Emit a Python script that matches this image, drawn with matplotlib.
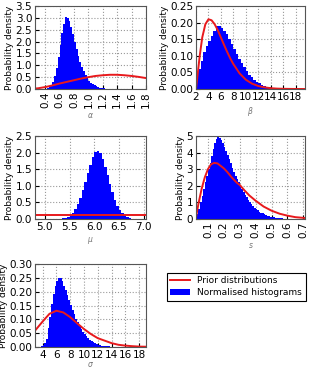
import numpy as np
import matplotlib
matplotlib.use('Agg')
import matplotlib.pyplot as plt

# alpha
alpha_start, alpha_width = 0.40, 0.025
alpha_hist = [0.01, 0.03, 0.07, 0.15, 0.30, 0.55, 0.90, 1.35, 1.85, 2.35, 2.75, 3.05,
              3.00, 2.85, 2.60, 2.30, 2.00, 1.70, 1.40, 1.15, 0.92, 0.74, 0.58, 0.45,
              0.35, 0.27, 0.20, 0.15, 0.11, 0.08, 0.06, 0.04, 0.03, 0.02, 0.015, 0.01, 0.005]
alpha_prior_x = [0.26, 0.3, 0.4, 0.5, 0.6, 0.7, 0.8, 0.9, 1.0, 1.1, 1.2, 1.3, 1.4, 1.5, 1.6, 1.7, 1.8]
alpha_prior_y = [0.02, 0.03, 0.08, 0.15, 0.23, 0.30, 0.37, 0.44, 0.50, 0.55, 0.58, 0.60, 0.60,
                 0.58, 0.55, 0.51, 0.46]

# beta
beta_start, beta_width = 2.0, 0.4
beta_hist = [0.03, 0.06, 0.085, 0.11, 0.13, 0.145, 0.16, 0.175, 0.19, 0.19, 0.185, 0.175,
             0.165, 0.15, 0.135, 0.12, 0.105, 0.09, 0.077, 0.065, 0.053, 0.043, 0.035,
             0.028, 0.022, 0.017, 0.013, 0.01, 0.007, 0.005, 0.004, 0.003, 0.002, 0.001]
beta_prior_x = [2.0, 2.3, 2.6, 3.0, 3.5, 4.0, 4.5, 5.0, 5.5, 6.0, 6.5, 7.0, 7.5, 8.0, 9.0,
                10.0, 11.0, 12.0, 13.0, 14.0, 15.0, 16.0, 17.0, 18.0, 19.5]
beta_prior_y = [0.0, 0.05, 0.10, 0.155, 0.195, 0.21, 0.207, 0.195, 0.177, 0.155, 0.133, 0.112,
                0.092, 0.075, 0.047, 0.028, 0.016, 0.009, 0.005, 0.0025, 0.0012, 0.0006,
                0.0003, 0.0001, 0.0]

# mu
mu_start, mu_width = 5.30, 0.05
mu_hist = [0.01, 0.02, 0.04, 0.07, 0.12, 0.19, 0.30, 0.45, 0.64, 0.87, 1.12, 1.39, 1.64,
           1.86, 2.02, 2.05, 1.98, 1.82, 1.58, 1.32, 1.05, 0.80, 0.58, 0.40, 0.27, 0.17,
           0.10, 0.06, 0.03, 0.015]
mu_prior_x = [4.8, 7.05]
mu_prior_y = [0.11, 0.11]

# s
s_start, s_width = 0.03, 0.01
s_hist = [0.3, 0.6, 1.0, 1.4, 1.8, 2.2, 2.6, 3.0, 3.4, 3.8, 4.2, 4.55, 4.8, 4.95, 4.9, 4.75,
          4.55, 4.35, 4.1, 3.85, 3.6, 3.35, 3.1, 2.85, 2.6, 2.4, 2.2, 2.0, 1.8, 1.62, 1.45,
          1.3, 1.15, 1.02, 0.9, 0.79, 0.69, 0.6, 0.52, 0.45, 0.39, 0.34, 0.29, 0.25, 0.21,
          0.18, 0.15, 0.13, 0.11, 0.09, 0.075, 0.06, 0.05, 0.04, 0.03, 0.025, 0.02, 0.015, 0.01]
s_prior_x = [0.025, 0.04, 0.06, 0.08, 0.10, 0.12, 0.14, 0.16, 0.18, 0.20, 0.22, 0.25, 0.28,
             0.30, 0.33, 0.36, 0.40, 0.45, 0.50, 0.55, 0.60, 0.65, 0.71]
s_prior_y = [0.1, 0.9, 1.8, 2.5, 3.0, 3.3, 3.38, 3.35, 3.2, 3.05, 2.85, 2.5, 2.2, 2.05, 1.72,
             1.42, 1.1, 0.75, 0.5, 0.32, 0.2, 0.11, 0.06]

# sigma
sigma_start, sigma_width = 3.75, 0.25
sigma_hist = [0.002, 0.006, 0.015, 0.03, 0.07, 0.11, 0.155, 0.19, 0.22, 0.24, 0.25, 0.248,
              0.238, 0.222, 0.205, 0.188, 0.17, 0.152, 0.135, 0.118, 0.103, 0.089, 0.076,
              0.065, 0.055, 0.046, 0.038, 0.032, 0.026, 0.021, 0.017, 0.014, 0.011, 0.009,
              0.007, 0.005, 0.004, 0.003, 0.0025, 0.002, 0.0015, 0.001]
sigma_prior_x = [2.9, 3, 4, 5, 6, 7, 8, 9, 10, 11, 12, 13, 14, 15, 16, 17, 18, 19]
sigma_prior_y = [0.06, 0.062, 0.092, 0.12, 0.131, 0.125, 0.108, 0.086, 0.065, 0.047, 0.032,
                 0.023, 0.014, 0.008, 0.005, 0.003, 0.0015, 0.001]

plt.rcParams['font.family'] = ['DejaVu Sans']
plt.rcParams['font.size'] = 6.5

fig = plt.figure(figsize=(3.11, 3.69), dpi=100)
W, H = 311.0, 369.0

def make_ax(l, r, t, b):
    return fig.add_axes([l / W, 1 - b / H, (r - l) / W, (b - t) / H])

panels = [
    # axes box, data, xlim, ylim, xticks, yticks, formats, rotate, label, label pad
    ((35, 146, 6, 89), alpha_start, alpha_width, alpha_hist, alpha_prior_x, alpha_prior_y,
     (0.26, 1.8), (0, 3.5), np.arange(0.4, 1.81, 0.2), np.arange(0, 3.51, 0.5), '%.1f', '%.1f', True, r'$\alpha$', 2),
    ((196, 305, 6, 89), beta_start, beta_width, beta_hist, beta_prior_x, beta_prior_y,
     (2, 19.5), (0, 0.25), np.arange(2, 19, 2), np.arange(0, 0.251, 0.05), '%d', '%.2f', False, r'$\beta$', 2),
    ((35, 146, 136, 219), mu_start, mu_width, mu_hist, mu_prior_x, mu_prior_y,
     (4.8, 7.05), (0, 2.5), np.arange(5.0, 7.01, 0.5), np.arange(0, 2.51, 0.5), '%.1f', '%.1f', False, r'$\mu$', 2),
    ((196, 305, 136, 219), s_start, s_width, s_hist, s_prior_x, s_prior_y,
     (0.025, 0.71), (0, 5), np.arange(0.1, 0.71, 0.1), np.arange(0, 5.1, 1), '%.1f', '%d', True, r'$s$', 2),
    ((35, 146, 264, 347), sigma_start, sigma_width, sigma_hist, sigma_prior_x, sigma_prior_y,
     (2.9, 19), (0, 0.30), np.arange(4, 19, 2), np.arange(0, 0.301, 0.05), '%d', '%.2f', False, r'$\sigma$', 0),
]

for box, start, width, hist, px, py, xlim, ylim, xt, yt, xfmt, yfmt, rot, lab, lpad in panels:
    ax = make_ax(*box)
    edges = start + width * np.arange(len(hist) + 1)
    ax.fill_between(edges, np.r_[hist, hist[-1]], step='post', color='#0000ff',
                    linewidth=0, label='Normalised histograms', zorder=2)
    ax.plot(px, py, color='#e8191c', lw=1.4, label='Prior distributions', zorder=3)
    ax.set_xlim(*xlim)
    ax.set_ylim(*ylim)
    ax.set_xticks(xt)
    ax.set_yticks(yt)
    ax.set_yticklabels([yfmt % v for v in yt])
    ax.set_xticklabels([xfmt % v for v in xt], rotation=90 if rot else 0)
    ax.tick_params(direction='in', length=3, pad=2, labelsize=7.5)
    ax.grid(True, color='#999999', linestyle=':', linewidth=0.8, zorder=1)
    ax.set_axisbelow(True)
    for sp in ax.spines.values():
        sp.set_color('#555555')
        sp.set_zorder(4)
    ax.set_ylabel('Probability density', fontsize=6.5, labelpad=1)
    ax.set_xlabel(lab, fontsize=5.5, color='#777777', labelpad=lpad)

handles, labels = ax.get_legend_handles_labels()
leg = fig.legend(handles[::-1], labels[::-1], loc='upper left',
                 bbox_to_anchor=(162 / W, 1 - 268 / H), fontsize=6.5,
                 fancybox=False, edgecolor='black', framealpha=1,
                 handlelength=2.2, borderpad=0.4, labelspacing=0.35, handletextpad=0.8)
leg.get_frame().set_linewidth(0.8)

fig.savefig('out.png', dpi=100)
